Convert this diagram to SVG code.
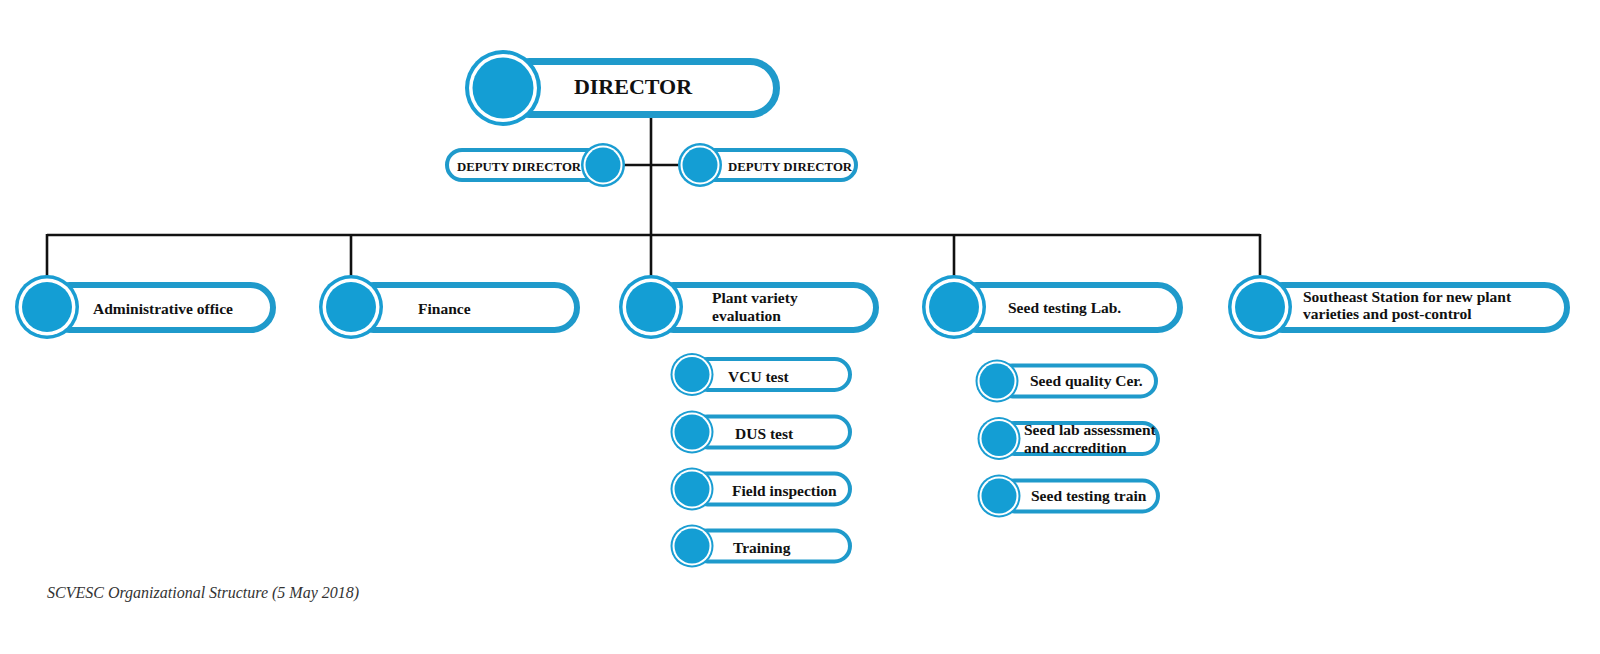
<svg xmlns="http://www.w3.org/2000/svg" width="1600" height="654" viewBox="0 0 1600 654">
<style>
.o{fill:#1a9dd2}
.w{fill:#fff}
.i{fill:#149ed4}
.pill{fill:#fff;stroke:#1f9acb}
.p6{stroke-width:6}
.p7{stroke-width:7}
.p4{stroke-width:4}
.conn{stroke:#111;stroke-width:2.6;fill:none}
text{font-family:"Liberation Serif","Times New Roman",serif;font-weight:bold;fill:#111}
.t15{font-size:15.5px}
.cap{font-weight:normal;font-style:italic;font-size:16px;fill:#333}
</style>
<rect width="1600" height="654" fill="#fff"/>
<g id="connectors">
<line class="conn" x1="651" y1="116" x2="651" y2="277"/>
<line class="conn" x1="622" y1="165" x2="681" y2="165"/>
<line class="conn" x1="47" y1="235" x2="1260" y2="235"/>
<line class="conn" x1="47" y1="234" x2="47" y2="277"/>
<line class="conn" x1="351" y1="234" x2="351" y2="277"/>
<line class="conn" x1="954" y1="234" x2="954" y2="277"/>
<line class="conn" x1="1260" y1="234" x2="1260" y2="277"/>
</g>
<g id="director">
<rect class="pill p7" x="503" y="61.5" width="273.5" height="53" rx="26.5"/>
<circle class="o" cx="503" cy="88" r="38"/><circle class="w" cx="503" cy="88" r="34"/><circle class="i" cx="503" cy="88" r="30.5"/>
<text x="633" y="94" font-size="22" text-anchor="middle">DIRECTOR</text>
</g>
<g id="deputy-left">
<rect class="pill p4" x="447" y="150" width="156" height="30" rx="15"/>
<circle class="o" cx="603" cy="165" r="22"/><circle class="w" cx="603" cy="165" r="19.5"/><circle class="i" cx="603" cy="165" r="17.5"/>
<text x="457" y="170.5" font-size="12.8">DEPUTY DIRECTOR</text>
</g>
<g id="deputy-right">
<rect class="pill p4" x="700" y="150" width="156" height="30" rx="15"/>
<circle class="o" cx="700" cy="165" r="22"/><circle class="w" cx="700" cy="165" r="19.5"/><circle class="i" cx="700" cy="165" r="17.5"/>
<text x="728" y="170.5" font-size="12.8">DEPUTY DIRECTOR</text>
</g>
<g id="admin">
<rect class="pill p6" x="47" y="285" width="226" height="45" rx="22.5"/>
<circle class="o" cx="47" cy="307" r="32"/><circle class="w" cx="47" cy="307" r="28.5"/><circle class="i" cx="47" cy="307" r="25"/>
<text class="t15" x="93" y="314">Administrative office</text>
</g>
<g id="finance">
<rect class="pill p6" x="351" y="285" width="226" height="45" rx="22.5"/>
<circle class="o" cx="351" cy="307" r="32"/><circle class="w" cx="351" cy="307" r="28.5"/><circle class="i" cx="351" cy="307" r="25"/>
<text class="t15" x="418" y="314">Finance</text>
</g>
<g id="plant-variety">
<rect class="pill p6" x="651" y="285" width="225" height="45" rx="22.5"/>
<circle class="o" cx="651" cy="307" r="32"/><circle class="w" cx="651" cy="307" r="28.5"/><circle class="i" cx="651" cy="307" r="25"/>
<text class="t15" x="712" y="303">Plant variety</text>
<text class="t15" x="712" y="321">evaluation</text>
</g>
<g id="seed-lab">
<rect class="pill p6" x="954" y="285" width="226" height="45" rx="22.5"/>
<circle class="o" cx="954" cy="307" r="32"/><circle class="w" cx="954" cy="307" r="28.5"/><circle class="i" cx="954" cy="307" r="25"/>
<text class="t15" x="1008" y="313">Seed testing Lab.</text>
</g>
<g id="southeast">
<rect class="pill p6" x="1260" y="285" width="307" height="45" rx="22.5"/>
<circle class="o" cx="1260" cy="307" r="32"/><circle class="w" cx="1260" cy="307" r="28.5"/><circle class="i" cx="1260" cy="307" r="25"/>
<text class="t15" x="1303" y="302">Southeast Station for new plant</text>
<text class="t15" x="1303" y="319">varieties and post-control</text>
</g>
<g id="vcu">
<rect class="pill p4" x="692" y="359" width="158" height="31" rx="15.5"/>
<circle class="o" cx="692" cy="374.5" r="21.5"/><circle class="w" cx="692" cy="374.5" r="19.5"/><circle class="i" cx="692" cy="374.5" r="17.5"/>
<text class="t15" x="728" y="381.5">VCU test</text>
</g>
<g id="dus">
<rect class="pill p4" x="692" y="416.5" width="158" height="31" rx="15.5"/>
<circle class="o" cx="692" cy="432" r="21.5"/><circle class="w" cx="692" cy="432" r="19.5"/><circle class="i" cx="692" cy="432" r="17.5"/>
<text class="t15" x="735" y="438.5">DUS test</text>
</g>
<g id="field">
<rect class="pill p4" x="692" y="473.5" width="158" height="31" rx="15.5"/>
<circle class="o" cx="692" cy="489" r="21.5"/><circle class="w" cx="692" cy="489" r="19.5"/><circle class="i" cx="692" cy="489" r="17.5"/>
<text class="t15" x="732" y="495.5">Field inspection</text>
</g>
<g id="training">
<rect class="pill p4" x="692" y="530.5" width="158" height="31" rx="15.5"/>
<circle class="o" cx="692" cy="546" r="21.5"/><circle class="w" cx="692" cy="546" r="19.5"/><circle class="i" cx="692" cy="546" r="17.5"/>
<text class="t15" x="733" y="552.5">Training</text>
</g>
<g id="seed-quality">
<rect class="pill p4" x="997" y="365.5" width="159" height="31" rx="15.5"/>
<circle class="o" cx="997" cy="381" r="21.5"/><circle class="w" cx="997" cy="381" r="19.5"/><circle class="i" cx="997" cy="381" r="17.5"/>
<text class="t15" x="1030" y="386">Seed quality Cer.</text>
</g>
<g id="seed-assessment">
<rect class="pill p4" x="999" y="423" width="159" height="31" rx="15.5"/>
<circle class="o" cx="999" cy="438.5" r="21.5"/><circle class="w" cx="999" cy="438.5" r="19.5"/><circle class="i" cx="999" cy="438.5" r="17.5"/>
<text class="t15" x="1024" y="435">Seed lab assessment</text>
<text class="t15" x="1024" y="453">and accredition</text>
</g>
<g id="seed-train">
<rect class="pill p4" x="999" y="480.5" width="159" height="31" rx="15.5"/>
<circle class="o" cx="999" cy="496" r="21.5"/><circle class="w" cx="999" cy="496" r="19.5"/><circle class="i" cx="999" cy="496" r="17.5"/>
<text class="t15" x="1031" y="501">Seed testing train</text>
</g>
<text class="cap" x="47" y="598">SCVESC Organizational Structure (5 May 2018)</text>
</svg>
